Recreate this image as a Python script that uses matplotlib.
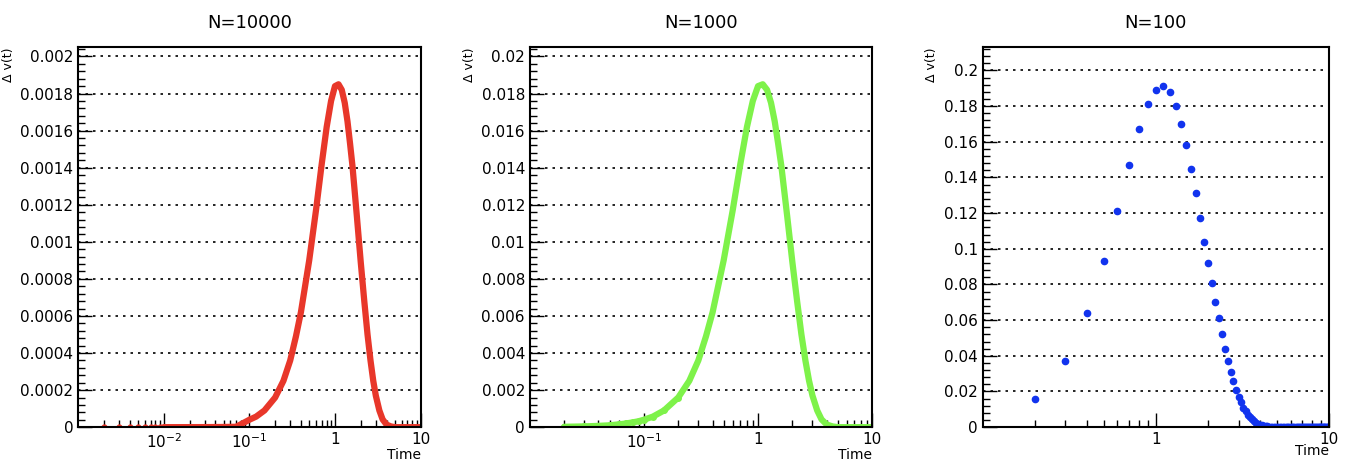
import matplotlib
matplotlib.use("Agg")
import matplotlib.pyplot as plt
from matplotlib.ticker import MultipleLocator, FixedLocator, NullFormatter, FixedFormatter
import numpy as np

# N=100: one point every 0.1 from 0.2 to 10
t100 = [round(0.2 + 0.1 * i, 1) for i in range(99)]
y100 = [0.016, 0.037, 0.064, 0.093, 0.121, 0.147, 0.167, 0.181, 0.189, 0.191,
        0.188, 0.180, 0.170, 0.158, 0.145, 0.131, 0.117, 0.104, 0.092, 0.081,
        0.070, 0.061, 0.052, 0.044, 0.037, 0.031, 0.026, 0.021, 0.017, 0.014,
        0.011, 0.009, 0.007, 0.0055, 0.0043, 0.0033, 0.0025, 0.0019, 0.0014, 0.0010,
        0.0007, 0.0005, 0.0004, 0.0003, 0.0002, 0.00015, 0.0001, 0.00007, 0.00005, 0.00003] + [0.0] * 49

t1000 = [0.02, 0.03, 0.04, 0.05, 0.06, 0.07, 0.08, 0.09, 0.1, 0.12, 0.15, 0.2, 0.25,
         0.3, 0.35, 0.4, 0.5, 0.6, 0.7, 0.8, 0.9, 1.0, 1.1, 1.2, 1.3, 1.4, 1.5, 1.6,
         1.8, 2.0, 2.2, 2.4, 2.6, 2.8, 3.0, 3.3, 3.6, 4.0, 4.5, 5.0, 6.0, 7.0, 8.0, 10.0]
y1000 = [0.00002, 0.00004, 0.00007, 0.0001, 0.00015, 0.0002, 0.00026, 0.00032, 0.0004,
         0.00057, 0.0009, 0.0016, 0.0025, 0.0036, 0.0049, 0.0062, 0.009, 0.0117, 0.0142,
         0.0162, 0.0176, 0.0184, 0.0185, 0.0182, 0.0175, 0.0165, 0.0153, 0.0141, 0.0114,
         0.0089, 0.0068, 0.0050, 0.0036, 0.0025, 0.0017, 0.0009, 0.00042, 0.00014,
         0.00004, 0.0, 0.0, 0.0, 0.0, 0.0]

t10000 = [0.002, 0.003, 0.004, 0.005, 0.006, 0.007, 0.008, 0.009, 0.01, 0.02, 0.03,
          0.05, 0.07] + t1000[8:]
y10000 = [0.0, 0.0, 0.0, 0.0, 0.0, 0.0, 0.0, 0.0, 0.0, 0.0000002, 0.0000004,
          0.000001, 0.000002] + [v / 10 for v in y1000[8:]]

panels = [
    ("N=10000", t10000, y10000, "#e8372a", (0.001, 10), 0.00205, 0.0002, [0.01, 0.1, 1, 10],
     [r"$10^{-2}$", r"$10^{-1}$", "1", "10"], 0.058, 0.254),
    ("N=1000", t1000, y1000, "#7ef24a", (0.01, 10), 0.0205, 0.002, [0.1, 1, 10],
     [r"$10^{-1}$", "1", "10"], 0.393, 0.254),
    ("N=100", t100, y100, "#1133ee", (0.1, 10), 0.213, 0.02, [1, 10],
     ["1", "10"], 0.729, 0.257),
]

fig = plt.figure(figsize=(13.48, 4.72), dpi=100)
for title, t, y, col, xl, ytop, ystep, xt, xtl, left, w in panels:
    ax = fig.add_axes([left, 0.095, w, 0.805])
    ax.set_xscale("log")
    if title == "N=100":
        ax.plot(t, y, "o", color=col, ms=4.5)
    elif title == "N=1000":
        ax.plot(t, y, "-", color=col, lw=4.5, solid_capstyle="round")
        ax.plot(t[:12], y[:12], "o", color=col, ms=4)
    else:
        ax.plot(t[8:], y[8:], "-", color=col, lw=4.5, solid_capstyle="round")
        ax.plot(t[:9], y[:9], "o", color=col, ms=3.5)
    ax.set_xlim(*xl)
    ax.set_ylim(0, ytop)
    ax.yaxis.set_major_locator(MultipleLocator(ystep))
    ax.yaxis.set_minor_locator(MultipleLocator(ystep / 5))
    ax.xaxis.set_major_locator(FixedLocator(xt))
    ax.xaxis.set_major_formatter(FixedFormatter(xtl))
    ax.xaxis.set_minor_formatter(NullFormatter())
    ax.yaxis.set_major_formatter(plt.FuncFormatter(lambda v, p: "0" if v == 0 else "%g" % round(v, 6)))
    ax.grid(axis="y", color="black", ls=(0, (1.5, 3)), lw=1.2)
    ax.tick_params(which="both", direction="in", top=False, right=False, labelsize=11)
    ax.tick_params(which="major", length=10, width=1)
    ax.tick_params(which="minor", length=5, width=1)
    for s in ax.spines.values():
        s.set_linewidth(1.5)
    ax.set_title(title, fontsize=13, pad=14)
    ax.set_xlabel("Time", fontsize=10, loc="right", labelpad=-2)
    ax.set_ylabel("Δ v(t)", fontsize=9, loc="top")
fig.savefig("out.png", dpi=100)
